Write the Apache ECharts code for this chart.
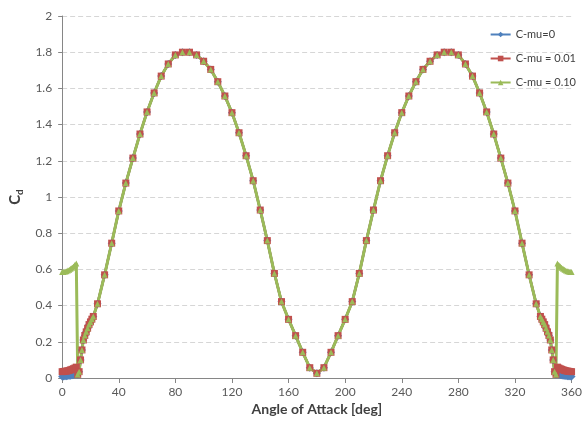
<!DOCTYPE html>
<html>
<head>
<meta charset="utf-8">
<script src="https://cdn.jsdelivr.net/npm/echarts@6/dist/echarts.min.js"></script>
<style>
  html, body { margin: 0; padding: 0; background: #fff; }
  #main { width: 585px; height: 426px; }
</style>
</head>
<body>
<div id="main"></div>
<script>
// angle of attack [deg]
var angles = [
  0, 1, 2, 3, 4, 5, 6, 7, 8, 9, 10, 11, 12, 13, 14, 15, 16, 17, 18, 19, 20, 21, 22,
  25, 30, 35, 40, 45, 50, 55, 60, 65, 70, 75, 80, 85, 90, 95, 100, 105, 110, 115, 120,
  125, 130, 135, 140, 145, 150, 155, 160, 165, 170, 175, 180, 185, 190, 195, 200, 205,
  210, 215, 220, 225, 230, 235, 240, 245, 250, 255, 260, 265, 270, 275, 280, 285, 290,
  295, 300, 305, 310, 315, 320, 325, 330, 335,
  338, 339, 340, 341, 342, 343, 344, 345, 346, 347, 348, 349, 350, 351, 352, 353, 354,
  355, 356, 357, 358, 359, 360
];

// part of the curve that all three cases share (angles 11..349)
var shared = [
  0.02, 0.035, 0.10, 0.155, 0.21, 0.235, 0.255, 0.275, 0.295, 0.31, 0.325, 0.34,
  0.41, 0.57, 0.745, 0.923, 1.077, 1.215, 1.348, 1.47, 1.575, 1.668, 1.735, 1.785,
  1.80, 1.80, 1.785, 1.75, 1.705, 1.637, 1.558, 1.466, 1.355, 1.228, 1.09, 0.928,
  0.759, 0.578, 0.422, 0.324, 0.234, 0.142, 0.057, 0.026, 0.057, 0.142, 0.234, 0.324,
  0.422, 0.578, 0.759, 0.928, 1.09, 1.228, 1.355, 1.466, 1.558, 1.637, 1.705, 1.75,
  1.785, 1.80, 1.80, 1.785, 1.735, 1.668, 1.575, 1.47, 1.348, 1.215, 1.077, 0.923,
  0.745, 0.57, 0.41,
  0.34, 0.325, 0.31, 0.295, 0.275, 0.255, 0.235, 0.21, 0.155, 0.10, 0.035, 0.02
];

// attached-flow part, angles 0..10 and 350..360
var cmu0Lead = [0.008, 0.008, 0.009, 0.010, 0.011, 0.012, 0.013, 0.015, 0.017, 0.019, 0.022];
var cmu0Tail = [0.022, 0.019, 0.017, 0.015, 0.013, 0.012, 0.011, 0.010, 0.009, 0.008, 0.008];
var cmu001Lead = [0.035, 0.036, 0.037, 0.038, 0.040, 0.042, 0.045, 0.048, 0.051, 0.055, 0.060];
var cmu001Tail = [0.060, 0.055, 0.051, 0.048, 0.045, 0.042, 0.040, 0.038, 0.037, 0.036, 0.035];
var cmu010Lead = [0.585, 0.586, 0.588, 0.590, 0.594, 0.598, 0.603, 0.609, 0.616, 0.624, 0.633];
var cmu010Tail = [0.633, 0.624, 0.616, 0.609, 0.603, 0.598, 0.594, 0.590, 0.588, 0.586, 0.585];

var yTicks = ['0', '0.2', '0.4', '0.6', '0.8', '1', '1.2', '1.4', '1.6', '1.8', '2'];

function pairs(lead, tail) {
  var vals = lead.concat(shared, tail);
  return angles.map(function (a, i) { return [a, vals[i]]; });
}

var font = 'Lato, "Open Sans", sans-serif';
var chart = echarts.init(document.getElementById('main'));

function mkSeries(name, data, symbol, color, size, width) {
  return {
    name: name,
    type: 'line',
    data: data,
    symbol: symbol,
    symbolSize: size,
    showAllSymbol: true,
    lineStyle: { color: color, width: width },
    itemStyle: { color: color },
    emphasis: { disabled: true },
    animation: false
  };
}

chart.setOption({
  backgroundColor: '#fff',
  textStyle: { fontFamily: font },
  grid: { left: 60, right: 13, top: 16, bottom: 48 },
  legend: {
    orient: 'vertical',
    right: 4,
    top: 24,
    itemGap: 13,
    itemWidth: 20,
    itemHeight: 7,
    textStyle: { fontSize: 11, color: '#404040', fontFamily: font },
    data: ['C-mu=0', 'C-mu = 0.01', 'C-mu = 0.10']
  },
  xAxis: {
    type: 'value',
    min: 0,
    max: 360,
    interval: 40,
    name: 'Angle of Attack [deg]',
    nameLocation: 'middle',
    nameGap: 24,
    nameTextStyle: { fontSize: 14, fontWeight: 'bold', color: '#404040', fontFamily: font },
    axisLine: { lineStyle: { color: '#868686' } },
    axisTick: { show: true, length: 5, lineStyle: { color: '#868686' } },
    axisLabel: { fontSize: 12, color: '#595959', margin: 8 },
    splitLine: { show: false }
  },
  yAxis: {
    type: 'value',
    min: 0,
    max: 2,
    interval: 0.2,
    name: '{c|C}{d|d}',
    nameLocation: 'middle',
    nameGap: 34,
    nameRotate: 90,
    nameTextStyle: {
      color: '#404040',
      rich: {
        c: { fontSize: 15, fontWeight: 'bold', color: '#404040', fontFamily: font },
        d: { fontSize: 10, fontWeight: 'bold', color: '#404040', fontFamily: font, padding: [8, 0, 0, 0] }
      }
    },
    axisLine: { show: true, lineStyle: { color: '#868686' } },
    axisTick: { show: true, length: 4, lineStyle: { color: '#868686' } },
    axisLabel: {
      fontSize: 12, color: '#595959', margin: 10,
      formatter: function (v) { return yTicks[Math.round(v / 0.2)]; }
    },
    splitLine: { lineStyle: { color: '#d6d6d6', type: [5, 3] } }
  },
  series: [
    mkSeries('C-mu=0', pairs(cmu0Lead, cmu0Tail), 'diamond', '#4F81BD', 8, 2.5),
    mkSeries('C-mu = 0.01', pairs(cmu001Lead, cmu001Tail), 'rect', '#C0504D', 7, 2.5),
    mkSeries('C-mu = 0.10', pairs(cmu010Lead, cmu010Tail), 'triangle', '#9BBB59', 6, 3)
  ]
});
</script>
</body>
</html>
